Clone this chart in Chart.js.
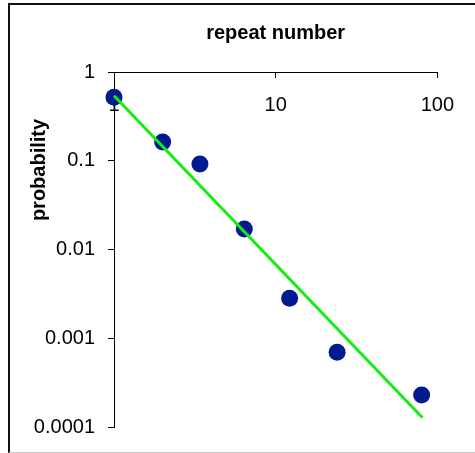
<!DOCTYPE html>
<html>
<head>
<meta charset="utf-8">
<script src="https://cdn.jsdelivr.net/npm/chart.js@4/dist/chart.umd.min.js"></script>
<style>
  html, body { margin: 0; padding: 0; background: #fff; }
  #wrap { position: relative; width: 475px; height: 453px; overflow: hidden; }
  #frame {
    position: absolute; left: 8px; top: 3px; width: 480px; height: 447px;
    border-left: 2px solid #111; border-top: 2px solid #111; border-bottom: 1px solid #c8c8c8;
  }
  #chart { position: absolute; left: 0; top: 0; }
</style>
</head>
<body>
<div id="wrap">
  <div id="frame"></div>
  <canvas id="chart" width="475" height="453"></canvas>
</div>
<script>
// Data
const repeatNumber = [1, 2, 3.4, 6.4, 12.2, 24, 80];
const probability = [0.52, 0.163, 0.092, 0.017, 0.00282, 0.000695, 0.000229];
// fitted power-law line (end points)
const fitX = [1, 81];
const fitY = [0.54, 0.000127];
// ticks
const xTicks = [1, 10, 100];
const xTickLabels = ['1', '10', '100'];
const yTicks = [0.0001, 0.001, 0.01, 0.1, 1];
const yTickLabels = ['0.0001', '0.001', '0.01', '0.1', '1'];

const FONT = "'Liberation Sans', Arial, sans-serif";
Chart.defaults.color = '#000';
Chart.defaults.font.family = FONT;

// y axis title sits above the centre of the axis, like the original
const yTitlePlugin = {
    id: 'yTitle',
    afterDraw(chart) {
        const ctx = chart.ctx;
        ctx.save();
        ctx.translate(39, 170);
        ctx.rotate(-Math.PI / 2);
        ctx.font = 'bold 20px ' + FONT;
        ctx.fillStyle = '#000';
        ctx.textAlign = 'center';
        ctx.textBaseline = 'middle';
        ctx.fillText('probability', 0, 0);
        ctx.restore();
    }
};

new Chart(document.getElementById('chart'), {
    type: 'line',
    data: {
        datasets: [
            {
                label: 'fit',
                data: fitX.map((x, i) => ({x: x, y: fitY[i]})),
                borderColor: '#11ee11',
                borderWidth: 3,
                pointRadius: 0,
                fill: false,
                clip: false,
                order: 0
            },
            {
                label: 'probability',
                data: repeatNumber.map((x, i) => ({x: x, y: probability[i]})),
                showLine: false,
                pointRadius: 8.5,
                pointBackgroundColor: '#001a8f',
                pointBorderColor: '#001a8f',
                pointBorderWidth: 0,
                clip: false,
                order: 1
            }
        ]
    },
    options: {
        responsive: false,
        animation: false,
        devicePixelRatio: 1,
        layout: { padding: { left: 0, top: 0, right: 8, bottom: 26 } },
        plugins: {
            legend: { display: false },
            tooltip: { enabled: false }
        },
        scales: {
            x: {
                type: 'logarithmic',
                position: 'top',
                min: 1,
                max: 100,
                afterBuildTicks: (scale) => { scale.ticks = xTicks.map(v => ({value: v})); },
                afterFit: (scale) => { scale.height = 72; },
                grid: {
                    drawOnChartArea: false,
                    tickLength: -6,
                    color: '#000',
                    lineWidth: 1
                },
                border: { display: true, color: '#000', width: 1 },
                ticks: {
                    mirror: true,
                    padding: 21,
                    maxRotation: 0,
                    autoSkip: false,
                    font: { size: 20 },
                    callback: (value, index) => xTickLabels[index]
                },
                title: {
                    display: true,
                    text: 'repeat number',
                    font: { size: 20, weight: 'bold' },
                    padding: { top: 21, bottom: 0 }
                }
            },
            y: {
                type: 'logarithmic',
                position: 'left',
                min: 0.0001,
                max: 1,
                afterBuildTicks: (scale) => { scale.ticks = yTicks.map(v => ({value: v})); },
                afterFit: (scale) => { scale.width = 114; },
                grid: {
                    drawOnChartArea: false,
                    tickLength: 6,
                    color: '#000',
                    lineWidth: 1
                },
                border: { display: true, color: '#000', width: 1 },
                ticks: {
                    padding: 13,
                    autoSkip: false,
                    font: { size: 20 },
                    callback: (value, index) => yTickLabels[index]
                }
            }
        }
    },
    plugins: [yTitlePlugin]
});
</script>
</body>
</html>
